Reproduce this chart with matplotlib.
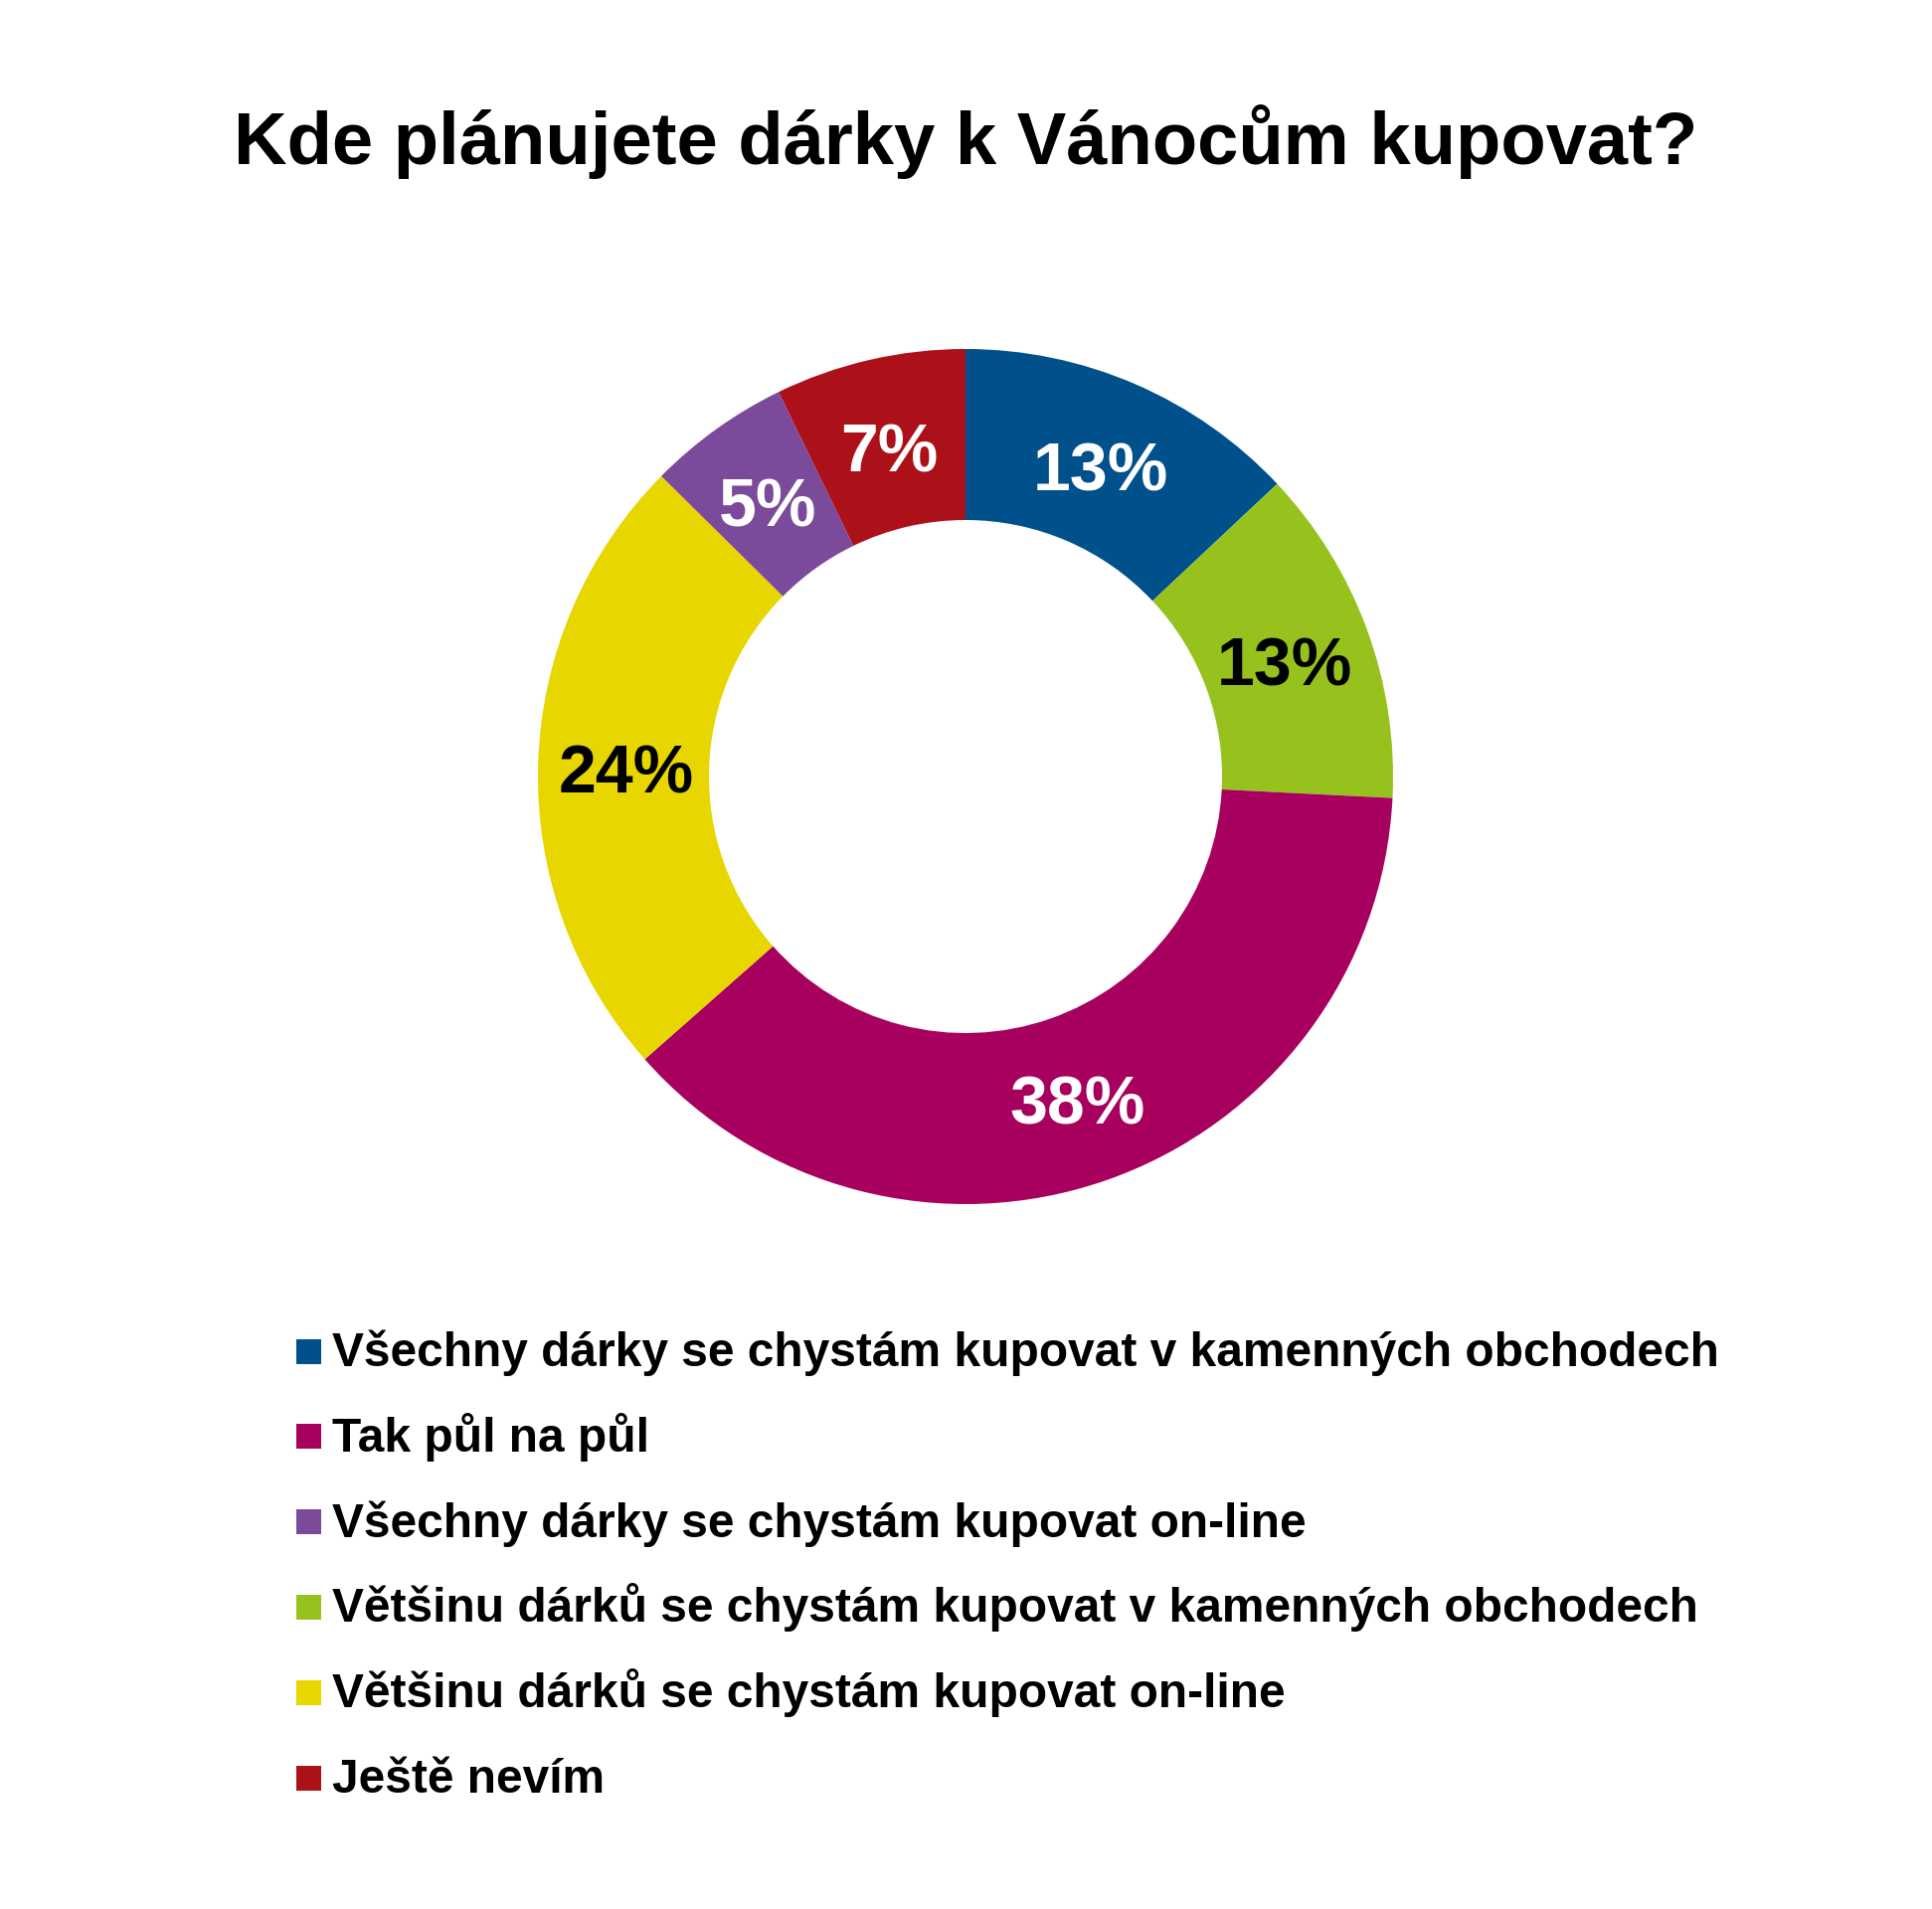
import matplotlib
matplotlib.use("Agg")
import matplotlib.pyplot as plt
from matplotlib.patches import Rectangle
from matplotlib.transforms import ScaledTranslation

plt.rcParams['font.family'] = ['Liberation Sans', 'DejaVu Sans']

title = "Kde plánujete dárky k Vánocům kupovat?"
# pie order (clockwise from 12 o'clock)
categories = [
    "Všechny dárky se chystám kupovat v kamenných obchodech",
    "Většinu dárků se chystám kupovat v kamenných obchodech",
    "Tak půl na půl",
    "Většinu dárků se chystám kupovat on-line",
    "Všechny dárky se chystám kupovat on-line",
    "Ještě nevím",
]
values = [13.0, 12.8, 37.7, 23.9, 5.4, 7.2]
colors = ["#00508C", "#97C21E", "#A8005F", "#E8D600", "#7B4A9B", "#AC1019"]
label_colors = ["white", "black", "white", "black", "white", "white"]
legend_order = [0, 2, 4, 1, 3, 5]

W, H = 1943, 1920
fig = plt.figure(figsize=(W / 100, H / 100), dpi=100)
fig.patch.set_facecolor("white")

cx, cy, R = 971, 781, 430
ax = fig.add_axes([(cx - R) / W, (H - cy - R) / H, 2 * R / W, 2 * R / H])
wedges, texts, autotexts = ax.pie(
    values, colors=colors, startangle=90, counterclock=False,
    wedgeprops=dict(width=0.4, edgecolor="none", linewidth=0),
    autopct=lambda p: f"{p:.0f}%", pctdistance=0.795, radius=1.0,
)
shift = ScaledTranslation(0, -0.085, fig.dpi_scale_trans)
for t, c in zip(autotexts, label_colors):
    t.set_color(c)
    t.set_fontsize(49)
    t.set_fontweight("bold")
    t.set_transform(t.get_transform() + shift)
ax.set_xlim(-1, 1)
ax.set_ylim(-1, 1)
ax.set_aspect("equal")
ax.axis("off")

fig.text(0.5, 1 - 143 / H, title, ha="center", va="center",
         fontsize=53.5, fontweight="bold", color="black")

y0, dy = 1359, 85.8
msize = 25
for i, k in enumerate(legend_order):
    yc = y0 + i * dy
    fig.patches.append(Rectangle(((298) / W, 1 - (yc + msize / 2) / H), msize / W, msize / H,
                                 transform=fig.transFigure, facecolor=colors[k],
                                 edgecolor="none"))
    fig.text(334 / W, 1 - (yc + 15) / H, categories[k], ha="left", va="baseline",
             fontsize=34.5, fontweight="bold", color="black")

fig.savefig("out.png", dpi=100, facecolor="white")
